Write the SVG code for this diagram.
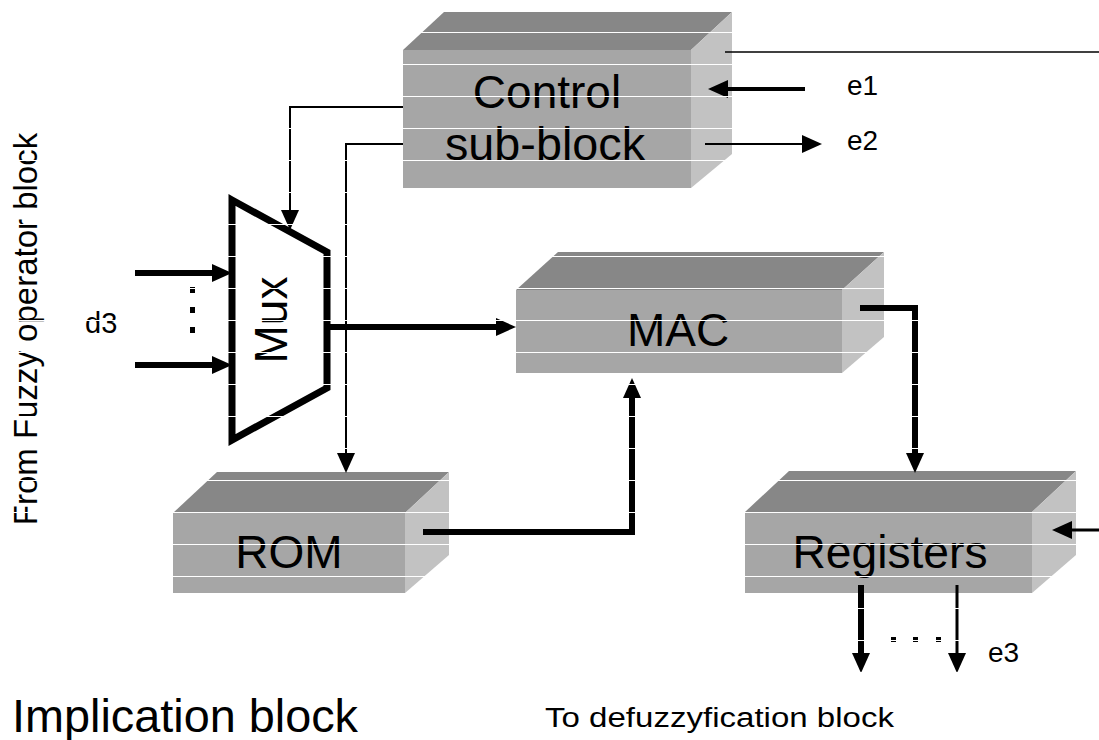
<svg xmlns="http://www.w3.org/2000/svg" width="1099" height="740" viewBox="0 0 1099 740">
<style>
.top{fill:#878787}
.front{fill:#a6a6a6}
.side{fill:#c2c2c2}
.lbl{font-family:"Liberation Sans",Arial,sans-serif;fill:#000}
.blk{font-size:46px;text-anchor:middle}
.sm{font-size:28px}
.w{fill:none;stroke:#000;stroke-linejoin:miter;stroke-linecap:butt}
.scan{stroke:#fff;stroke-width:1}
</style>
<defs>
<marker id="ah" markerUnits="userSpaceOnUse" markerWidth="20" markerHeight="18" refX="10" refY="9" orient="auto">
<path d="M0,0 L20,9 L0,18 z" fill="#000"/>
</marker>
</defs>
<rect width="1099" height="740" fill="#fff"/>

<g id="control">
<polygon class="top" points="403,50 444,12 732,12 691,50"/>
<rect class="front" x="403" y="50" width="288" height="138"/>
<polygon class="side" points="691,50 732,12 732,154 691,188"/>
<text class="lbl blk" x="547" y="108">Control</text>
<text class="lbl blk" x="545" y="160" textLength="200" lengthAdjust="spacingAndGlyphs">sub-block</text>
</g>

<g id="mac">
<polygon class="top" points="516,290 558,252 884,252 842,290"/>
<rect class="front" x="516" y="290" width="326" height="83"/>
<polygon class="side" points="842,290 884,252 884,337 842,373"/>
<text class="lbl blk" x="678" y="346">MAC</text>
</g>

<g id="rom">
<polygon class="top" points="173,513 217,472 449,472 405,513"/>
<rect class="front" x="173" y="513" width="232" height="80"/>
<polygon class="side" points="405,513 449,472 449,555 405,593"/>
<text class="lbl blk" x="289" y="568">ROM</text>
</g>

<g id="registers">
<polygon class="top" points="745,512 789,471 1076,471 1032,512"/>
<rect class="front" x="745" y="512" width="287" height="81"/>
<polygon class="side" points="1032,512 1076,471 1076,555 1032,593"/>
<text class="lbl blk" x="890" y="568" textLength="195" lengthAdjust="spacingAndGlyphs">Registers</text>
</g>

<g id="mux">
<polygon points="232,200 327,252 327,388 232,440" fill="#fff" stroke="#000" stroke-width="7" stroke-linejoin="miter"/>
<text class="lbl" font-size="46" text-anchor="middle" transform="translate(287,320) rotate(-90)">Mux</text>
</g>

<g id="connectors">
<polyline class="w" stroke-width="2" points="403,107 290,107 290,220" marker-end="url(#ah)"/>
<polyline class="w" stroke-width="2" points="403,144 346,144 346,463" marker-end="url(#ah)"/>
<line class="w" stroke-width="4" x1="805" y1="89" x2="718" y2="89" marker-end="url(#ah)"/>
<line class="w" stroke-width="2" x1="705" y1="144" x2="812" y2="144" marker-end="url(#ah)"/>
<line class="w" stroke-width="1.5" x1="725" y1="52" x2="1099" y2="52"/>
<line class="w" stroke-width="6" x1="135" y1="273" x2="222" y2="273" marker-end="url(#ah)"/>
<line class="w" stroke-width="6" x1="135" y1="365" x2="222" y2="365" marker-end="url(#ah)"/>
<line class="w" stroke-width="6" x1="330" y1="327" x2="506" y2="327" marker-end="url(#ah)"/>
<polyline class="w" stroke-width="6" points="423,532 632,532 632,388" marker-end="url(#ah)"/>
<polyline class="w" stroke-width="6" points="860,308 915,308 915,463" marker-end="url(#ah)"/>
<line class="w" stroke-width="3" x1="1099" y1="530" x2="1062" y2="530" marker-end="url(#ah)"/>
<line class="w" stroke-width="6" x1="861" y1="585" x2="861" y2="663" marker-end="url(#ah)"/>
<line class="w" stroke-width="3" x1="957" y1="585" x2="957" y2="663" marker-end="url(#ah)"/>
</g>

<g id="labels">
<text class="lbl" font-size="29" x="85" y="333">d3</text>
<rect x="190" y="287" width="5" height="6" fill="#000"/>
<rect x="190" y="307" width="5" height="6" fill="#000"/>
<rect x="190" y="327" width="5" height="6" fill="#000"/>
<text class="lbl sm" x="847" y="95">e1</text>
<text class="lbl sm" x="847" y="150">e2</text>
<rect x="891" y="637" width="5" height="5" fill="#000"/>
<rect x="913" y="637" width="5" height="5" fill="#000"/>
<rect x="936" y="637" width="5" height="5" fill="#000"/>
<text class="lbl sm" x="988" y="662">e3</text>
<text class="lbl" font-size="33" text-anchor="middle" transform="translate(37,329) rotate(-90)">From Fuzzy operator block</text>
<text class="lbl" font-size="47" x="12" y="732" textLength="346" lengthAdjust="spacingAndGlyphs">Implication block</text>
<text class="lbl" font-size="27" x="545" y="727" textLength="349" lengthAdjust="spacingAndGlyphs">To defuzzyfication block</text>
</g>

<g id="scanlines">
<line class="scan" x1="0" y1="32.5" x2="1099" y2="32.5"/>
<line class="scan" x1="0" y1="64.5" x2="1099" y2="64.5"/>
<line class="scan" x1="0" y1="96.5" x2="1099" y2="96.5"/>
<line class="scan" x1="0" y1="128.5" x2="1099" y2="128.5"/>
<line class="scan" x1="0" y1="160.5" x2="1099" y2="160.5"/>
<line class="scan" x1="0" y1="192.5" x2="1099" y2="192.5"/>
<line class="scan" x1="0" y1="224.5" x2="1099" y2="224.5"/>
<line class="scan" x1="0" y1="256.5" x2="1099" y2="256.5"/>
<line class="scan" x1="0" y1="288.5" x2="1099" y2="288.5"/>
<line class="scan" x1="0" y1="320.5" x2="1099" y2="320.5"/>
<line class="scan" x1="0" y1="352.5" x2="1099" y2="352.5"/>
<line class="scan" x1="0" y1="384.5" x2="1099" y2="384.5"/>
<line class="scan" x1="0" y1="416.5" x2="1099" y2="416.5"/>
<line class="scan" x1="0" y1="448.5" x2="1099" y2="448.5"/>
<line class="scan" x1="0" y1="480.5" x2="1099" y2="480.5"/>
<line class="scan" x1="0" y1="512.5" x2="1099" y2="512.5"/>
<line class="scan" x1="0" y1="544.5" x2="1099" y2="544.5"/>
<line class="scan" x1="0" y1="576.5" x2="1099" y2="576.5"/>
<line class="scan" x1="0" y1="608.5" x2="1099" y2="608.5"/>
<line class="scan" x1="0" y1="640.5" x2="1099" y2="640.5"/>
<line class="scan" x1="0" y1="672.5" x2="1099" y2="672.5"/>
</g>
</svg>
